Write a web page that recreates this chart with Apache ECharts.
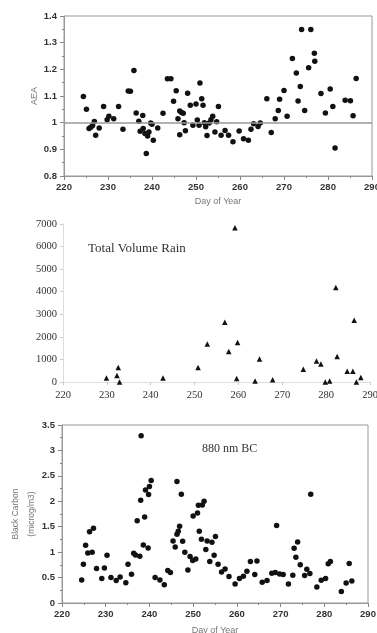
<!DOCTYPE html>
<html>
<head>
<meta charset="utf-8">
<script src="https://cdn.jsdelivr.net/npm/echarts@6/dist/echarts.min.js"></script>
<style>
  html, body { margin: 0; background: #fff; }
  #chart { width: 377px; height: 633px; }
</style>
</head>
<body>
<div id="chart"></div>
<script>
// AEA vs day of year (top panel)
const aeaDay = [224.4, 225.1, 225.7, 226.1, 226.5, 226.9, 227.2, 228.0, 229.0, 229.8, 230.2, 231.3, 232.4, 233.4,
  234.6, 235.1, 235.9, 236.4, 237.0, 237.3, 237.9, 238.0, 238.4, 238.7, 239.0, 239.3, 239.7, 240.0, 240.3, 241.3,
  242.5, 243.5, 244.3, 244.9, 245.5, 245.9, 246.3, 246.3, 246.7, 247.1, 247.3, 247.6, 248.1, 248.7, 249.3, 250.0,
  250.3, 250.7, 250.9, 251.3, 251.6, 251.9, 252.2, 252.5, 253.0, 253.4, 253.8, 254.3, 254.7, 255.1, 255.7, 256.6,
  257.4, 258.4, 259.8, 260.8, 261.9, 262.5, 263.1, 264.1, 264.6, 266.1, 267.1, 268.0, 268.7, 269.0, 270.0, 270.7,
  271.9, 272.8, 273.2, 273.7, 274.0, 274.7, 275.6, 276.1, 276.9, 277.0, 278.4, 279.4, 280.5, 281.1, 281.6, 283.9,
  285.1, 285.7, 286.4];
const aeaVal = [1.098, 1.05, 0.978, 0.983, 0.989, 1.004, 0.953, 0.98, 1.061, 1.011, 1.024, 1.015, 1.061, 0.975,
  1.119, 1.118, 1.196, 1.036, 1.005, 0.968, 1.027, 0.978, 0.959, 0.884, 0.95, 0.965, 0.999, 0.994, 0.934, 0.98,
  1.035, 1.165, 1.165, 1.08, 1.12, 1.015, 0.955, 1.044, 1.038, 1.035, 1.0, 0.97, 1.11, 1.065, 0.99, 1.07,
  1.01, 0.99, 1.149, 1.09, 1.065, 1.0, 0.985, 0.952, 0.999, 1.011, 1.024, 0.965, 1.003, 1.061, 0.953, 0.971,
  0.953, 0.928, 0.969, 0.94, 0.934, 0.975, 0.996, 0.986, 0.999, 1.09, 0.963, 1.015, 1.046, 1.088, 1.121, 1.024,
  1.241, 1.186, 1.081, 1.136, 1.349, 1.046, 1.206, 1.349, 1.26, 1.23, 1.109, 1.036, 1.126, 1.061, 0.905, 1.084,
  1.082, 1.026, 1.166];
const aeaRef = 1;

// total volume rain (middle panel)
const rainDay = [229.9, 232.3, 232.6, 232.9, 242.8, 250.8, 252.9, 256.9, 257.8, 259.2, 259.6, 259.8, 263.8, 264.8,
  267.8, 274.8, 277.8, 278.8, 279.8, 280.8, 282.2, 282.5, 284.8, 286.1, 286.4, 286.9, 287.9];
const rainVal = [178, 284, 639, 0, 178, 639, 1687, 2650, 1349, 6836, 150, 1749, 44, 1020,
  104, 563, 932, 799, 0, 44, 4190, 1127, 475, 475, 2738, 0, 195];

// 880 nm black carbon (bottom panel)
const bcDay = [224.5, 224.9, 225.4, 225.9, 226.3, 226.9, 227.2, 227.9, 229.1, 229.7, 230.3, 231.2, 232.4, 233.3,
  234.6, 235.1, 235.9, 236.4, 236.8, 237.2, 237.8, 238.0, 238.1, 238.6, 238.9, 239.1, 239.7, 239.8, 240.0, 240.4,
  241.3, 242.4, 243.4, 244.2, 244.8, 245.4, 245.9, 246.3, 246.3, 246.6, 246.9, 247.3, 247.6, 248.1, 248.8, 249.3,
  249.9, 250.0, 250.6, 251.0, 251.2, 251.4, 251.9, 252.1, 252.5, 252.9, 253.2, 253.8, 254.3, 254.8, 255.1, 255.7,
  256.5, 257.3, 258.2, 259.6, 260.6, 261.5, 262.3, 263.1, 264.1, 264.6, 265.8, 266.9, 268.0, 268.8, 269.1, 269.8,
  270.6, 271.8, 272.8, 273.1, 273.5, 273.9, 274.5, 275.5, 276.0, 276.7, 276.9, 278.3, 279.3, 280.3, 280.9, 281.4,
  283.9, 285.0, 285.7, 286.3];
const bcVal = [0.453, 0.762, 1.136, 0.985, 1.40, 0.999, 1.47, 0.677, 0.48, 0.69, 0.94, 0.50, 0.44, 0.51,
  0.40, 0.76, 0.565, 0.98, 0.946, 1.615, 0.92, 2.02, 3.29, 1.14, 1.69, 2.22, 1.08, 2.135, 2.29, 2.41,
  0.50, 0.45, 0.36, 0.64, 0.60, 1.22, 1.10, 2.39, 1.35, 1.41, 1.51, 2.14, 1.215, 1.00, 0.65, 0.914,
  0.835, 1.71, 0.867, 1.77, 1.92, 1.41, 1.255, 1.925, 2.0, 1.05, 1.22, 0.815, 1.195, 0.94, 1.31, 0.762,
  0.61, 0.67, 0.52, 0.374, 0.48, 0.525, 0.624, 0.815, 0.56, 0.827, 0.408, 0.44, 0.585, 0.6, 1.525, 0.571,
  0.56, 0.374, 0.546, 1.077, 0.9, 1.2, 0.75, 0.54, 0.664, 0.58, 2.14, 0.315, 0.447, 0.48, 0.77, 0.815,
  0.225, 0.394, 0.776, 0.433];

const SANS = 'Liberation Sans';
const SERIF = 'Liberation Serif';
const zip = (xs, ys) => xs.map((x, i) => [x, ys[i]]);
const trim = (v) => String(+v.toFixed(2));

// framed panels (top and bottom) share the same bold sans axis look
const SANS_LABEL = { fontFamily: SANS, fontSize: 9.5, fontWeight: 'bold', color: '#333' };
const SANS_NAME = { fontFamily: SANS, fontSize: 9, color: '#777' };
const DOT = { color: '#111', opacity: 1 };
const FRAME_AXIS = {
  type: 'value',
  axisLine: { show: true, lineStyle: { color: '#999' } },
  axisTick: { show: true, length: 4, lineStyle: { color: '#888' } },
  minorTick: { show: true, splitNumber: 2, length: 2, lineStyle: { color: '#888' } },
  splitLine: { show: false },
  nameMoveOverlap: false,
};
const dayAxis = (gridIndex, name, nameGap) => ({
  ...FRAME_AXIS, gridIndex, min: 220, max: 290, interval: 10,
  axisLabel: { ...SANS_LABEL, margin: 6 },
  name, nameLocation: 'middle', nameGap, nameTextStyle: SANS_NAME,
});

const chart = echarts.init(document.getElementById('chart'), null, { renderer: 'canvas' });
chart.setOption({
  animation: false,
  title: [
    { text: 'Total Volume Rain', left: 88, top: 242, padding: 0,
      textStyle: { fontFamily: SERIF, fontSize: 13, fontWeight: 'normal', color: '#333' } },
    { text: '880 nm BC', left: 202, top: 443, padding: 0,
      textStyle: { fontFamily: SERIF, fontSize: 12, fontWeight: 'normal', color: '#333' } },
  ],
  grid: [
    { left: 64, top: 16, width: 308, height: 160, show: true, borderColor: '#999', borderWidth: 1,
      outerBoundsMode: 'none' },
    { left: 63, top: 224, width: 307, height: 158, outerBoundsMode: 'none' },
    { left: 62, top: 425, width: 306, height: 178, show: true, borderColor: '#999', borderWidth: 1,
      outerBoundsMode: 'none' },
  ],
  xAxis: [
    dayAxis(0, 'Day of Year', 21),
    {
      type: 'value', gridIndex: 1, min: 220, max: 290, interval: 10,
      axisLine: { show: true, lineStyle: { color: '#ddd' } },
      axisTick: { show: true, length: 3, lineStyle: { color: '#ccc' } },
      axisLabel: { fontFamily: SERIF, fontSize: 10.5, color: '#333', margin: 8 },
      splitLine: { show: false },
    },
    dayAxis(2, 'Day of Year', 23),
  ],
  yAxis: [
    {
      ...FRAME_AXIS, gridIndex: 0, min: 0.8, max: 1.4, interval: 0.1,
      axisLabel: { ...SANS_LABEL, margin: 7, formatter: trim },
      name: 'AEA', nameLocation: 'middle', nameGap: 25, nameTextStyle: SANS_NAME,
    },
    {
      type: 'value', gridIndex: 1, min: 0, max: 7000, interval: 1000,
      axisLine: { show: true, lineStyle: { color: '#ddd' } },
      axisTick: { show: true, length: 3, lineStyle: { color: '#ccc' } },
      axisLabel: { fontFamily: SERIF, fontSize: 10.5, color: '#333', margin: 6, formatter: (v) => String(v) },
      splitLine: { show: false },
    },
    {
      ...FRAME_AXIS, gridIndex: 2, min: 0, max: 3.5, interval: 0.5,
      axisLabel: { ...SANS_LABEL, margin: 7, formatter: trim },
      name: 'Black Carbon\n(microg/m3)', nameLocation: 'middle', nameGap: 22,
      nameTextStyle: { ...SANS_NAME, fontSize: 8.5, lineHeight: 16 },
    },
  ],
  series: [
    {
      type: 'scatter', xAxisIndex: 0, yAxisIndex: 0, data: zip(aeaDay, aeaVal),
      symbol: 'circle', symbolSize: 5.5, itemStyle: DOT,
      markLine: {
        silent: true, symbol: 'none', label: { show: false },
        lineStyle: { color: '#999', width: 1.5, type: 'solid' },
        data: [{ yAxis: aeaRef }],
      },
    },
    {
      type: 'scatter', xAxisIndex: 1, yAxisIndex: 1, data: zip(rainDay, rainVal),
      symbol: 'triangle', symbolSize: 5.5, itemStyle: DOT,
    },
    {
      type: 'scatter', xAxisIndex: 2, yAxisIndex: 2, data: zip(bcDay, bcVal),
      symbol: 'circle', symbolSize: 5.5, itemStyle: DOT,
    },
  ],
});
</script>
</body>
</html>
